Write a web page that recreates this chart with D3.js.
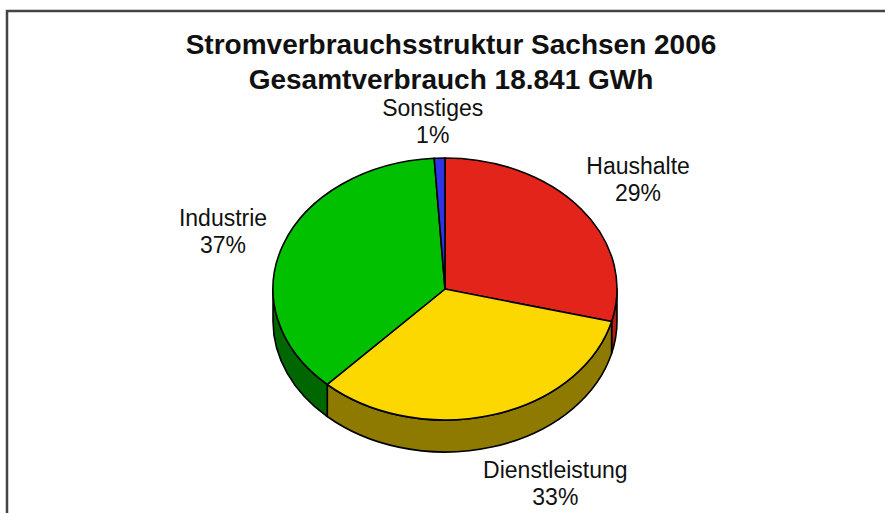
<!DOCTYPE html>
<html>
<head>
<meta charset="utf-8">
<script src="https://cdn.jsdelivr.net/npm/d3@7"></script>
<style>
  body { margin: 0; background: #fff; }
  svg { display: block; font-family: 'Liberation Sans', Arial, sans-serif; }
</style>
</head>
<body>
<div id="chart"></div>
<script>
// data
const categories = ['Haushalte', 'Dienstleistung', 'Industrie', 'Sonstiges'];
const shares = [29, 33, 37, 1];
const topColors = ['#e2241b', '#fcd700', '#00c000', '#3232e6'];
const sideColors = ['#b51c15', '#8f7a00', '#006600', '#1e1e99'];
const titleLines = ['Stromverbrauchsstruktur Sachsen 2006', 'Gesamtverbrauch 18.841 GWh'];

const width = 885;
const height = 513;
const cx = 445;
const cy = 289;
const rx = 172;
const ry = 131;
const depth = 32;

// hand nudges for labels Excel had moved
const labelNudge = {Haushalte: [10, -7], Dienstleistung: [38, 1], Industrie: [-4, -1], Sonstiges: [-5, 0]};

const svg = d3.select('#chart').append('svg')
    .attr('width', width)
    .attr('height', height);

// frame, runs off the right and bottom edge
svg.append('rect')
    .attr('x', 7).attr('y', 11)
    .attr('width', 920).attr('height', 600)
    .attr('fill', 'none')
    .attr('stroke', '#444')
    .attr('stroke-width', 2.5);

svg.selectAll('text.title')
    .data(titleLines).enter()
    .append('text')
    .attr('class', 'title')
    .attr('x', 451)
    .attr('y', (d, i) => 54 + i * 35)
    .attr('text-anchor', 'middle')
    .attr('font-size', 28)
    .attr('font-weight', 'bold')
    .attr('fill', '#111')
    .text((d) => d);

const pie = d3.pie().sort(null).value((d) => d.v);
const arcs = pie(categories.map((c, i) => ({name: c, v: shares[i], i: i})));

const px = (a, k = 1) => cx + rx * k * Math.sin(a);
const py = (a, k = 1) => cy - ry * k * Math.cos(a);

// side walls, only the front half (pi/2 .. 3pi/2) shows
const sides = svg.append('g');
arcs.forEach((d) => {
  const a0 = Math.max(d.startAngle, Math.PI / 2);
  const a1 = Math.min(d.endAngle, 3 * Math.PI / 2);
  if (a1 <= a0) return;
  const path = 'M' + px(a0) + ',' + py(a0) +
      ' A' + rx + ',' + ry + ' 0 0 1 ' + px(a1) + ',' + py(a1) +
      ' L' + px(a1) + ',' + (py(a1) + depth) +
      ' A' + rx + ',' + ry + ' 0 0 0 ' + px(a0) + ',' + (py(a0) + depth) +
      ' Z';
  sides.append('path')
      .attr('d', path)
      .attr('fill', sideColors[d.data.i])
      .attr('stroke', '#000')
      .attr('stroke-width', 1.6)
      .attr('stroke-linejoin', 'round');
});

// top faces
svg.append('g')
    .selectAll('path')
    .data(arcs).enter()
    .append('path')
    .attr('d', (d) => {
      const large = d.endAngle - d.startAngle > Math.PI ? 1 : 0;
      return 'M' + cx + ',' + cy +
          ' L' + px(d.startAngle) + ',' + py(d.startAngle) +
          ' A' + rx + ',' + ry + ' 0 ' + large + ' 1 ' +
          px(d.endAngle) + ',' + py(d.endAngle) + ' Z';
    })
    .attr('fill', (d) => topColors[d.data.i])
    .attr('stroke', '#000')
    .attr('stroke-width', 1.6)
    .attr('stroke-linejoin', 'round');

// labels outside the rim, box pushed away along the mid angle
const fs = 23;
const lineGap = 27;
const labels = svg.append('g')
    .attr('font-size', fs)
    .attr('fill', '#111');
arcs.forEach((d) => {
  const a = (d.startAngle + d.endAngle) / 2;
  const g = 10;
  let x = px(a, (rx + g) / rx);
  let y = py(a, (ry + g) / ry) + (Math.cos(a) < 0 ? depth : 0);
  const w = d.data.name.length * fs * 0.48;
  const h = 2 * lineGap;
  x += Math.sin(a) * w / 2;
  y -= Math.cos(a) * h / 2;
  const nudge = labelNudge[d.data.name];
  x += nudge[0];
  y += nudge[1];
  const t = labels.append('text')
      .attr('text-anchor', 'middle')
      .attr('x', x);
  t.append('tspan')
      .attr('x', x)
      .attr('y', y - 5)
      .text(d.data.name);
  t.append('tspan')
      .attr('x', x)
      .attr('y', y - 5 + lineGap)
      .text(d.data.v + '%');
});
</script>
</body>
</html>
